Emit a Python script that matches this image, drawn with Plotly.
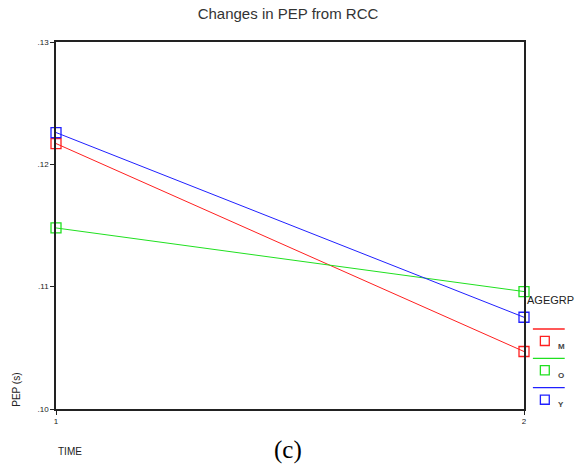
import plotly.graph_objects as go

time = [1, 2]
groups = ["M", "O", "Y"]
values = {
    "M": [0.1217, 0.1047],
    "O": [0.1148, 0.1096],
    "Y": [0.1226, 0.1075],
}
colors = {"M": "#ff2020", "O": "#20e020", "Y": "#2020ff"}
yticks = [0.10, 0.11, 0.12, 0.13]
yticklabels = [".10", ".11", ".12", ".13"]

fig = go.Figure()
for g in groups:
    fig.add_trace(go.Scatter(
        x=time, y=values[g], mode="lines+markers", name=g,
        line=dict(color=colors[g], width=1),
        marker=dict(symbol="square-open", size=10, color=colors[g], line=dict(width=1.3)),
        cliponaxis=False, showlegend=False,
    ))

# custom legend
fig.add_annotation(x=1.003, y=0.297, xref="paper", yref="paper", text="AGEGRP",
                   showarrow=False, xanchor="left", yanchor="middle",
                   font=dict(family="Liberation Sans, Arial", size=11, color="#222"))
for i, g in enumerate(groups):
    ly = 0.218 - i * 0.08
    fig.add_shape(type="line", xref="paper", yref="paper", x0=1.019, x1=1.087,
                  y0=ly, y1=ly, line=dict(color=colors[g], width=1.3))
    fig.add_shape(type="rect", xref="paper", yref="paper", x0=1.035, x1=1.054,
                  y0=ly - 0.045, y1=ly - 0.020, line=dict(color=colors[g], width=1.3))
    fig.add_annotation(x=1.068, y=ly - 0.047, xref="paper", yref="paper", text="<b>" + g + "</b>",
                       showarrow=False, xanchor="left", yanchor="middle",
                       font=dict(family="Liberation Sans, Arial", size=8, color="#444"))

fig.add_annotation(x=-0.086, y=0.0, xref="paper", yref="paper", text="PEP (s)",
                   showarrow=False, textangle=-90, xanchor="center", yanchor="bottom",
                   font=dict(family="Liberation Sans, Arial", size=10, color="#222"))
fig.add_annotation(x=0.0, y=-0.117, xref="paper", yref="paper", text="TIME",
                   showarrow=False, xanchor="left", yanchor="middle",
                   font=dict(family="Liberation Sans, Arial", size=10, color="#222"))
fig.add_annotation(x=0.496, y=-0.112, xref="paper", yref="paper", text="(c)",
                   showarrow=False, xanchor="center", yanchor="middle",
                   font=dict(family="Liberation Serif, Times New Roman", size=25, color="#000"))

fig.update_layout(
    width=576, height=465,
    margin=dict(l=56, r=52, t=42, b=56),
    paper_bgcolor="white", plot_bgcolor="white",
    title=dict(text="Changes in PEP from RCC", x=0.5, xanchor="center", y=0.97, yanchor="middle",
               font=dict(family="Liberation Sans, Arial", size=15, color="#333")),
    xaxis=dict(range=[1, 2], tickvals=[1, 2], ticktext=["1", "2"], showgrid=False, zeroline=False,
               showline=True, linecolor="#222", linewidth=1.5, mirror=True,
               ticks="outside", ticklen=4, tickcolor="#222",
               tickfont=dict(family="Liberation Sans, Arial", size=8, color="#222")),
    yaxis=dict(range=[0.10, 0.13], tickvals=yticks, ticktext=yticklabels, showgrid=False, zeroline=False,
               showline=True, linecolor="#222", linewidth=1.5, mirror=True,
               ticks="outside", ticklen=4, tickcolor="#222",
               tickfont=dict(family="Liberation Sans, Arial", size=8, color="#222")),
)

fig.write_html("out.html")
